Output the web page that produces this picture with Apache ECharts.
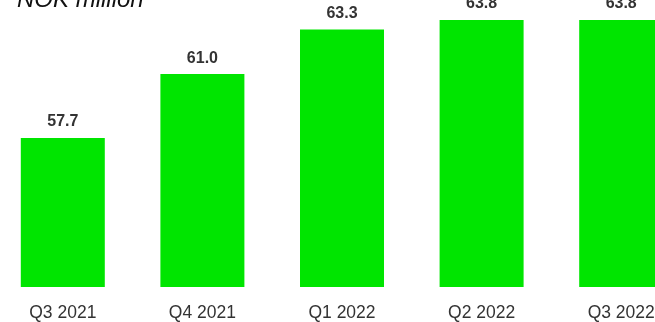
<!DOCTYPE html>
<html>
<head>
<meta charset="utf-8">
<script src="https://cdn.jsdelivr.net/npm/echarts@6/dist/echarts.min.js"></script>
<style>
html,body{margin:0;padding:0;background:#fff;}
#main{width:655px;height:322px;}
</style>
</head>
<body>
<div id="main"></div>
<script>
var quarters = ['Q3 2021', 'Q4 2021', 'Q1 2022', 'Q2 2022', 'Q3 2022'];
var revenue = [57.7, 61.0, 63.3, 63.8, 63.8];
var unitText = 'NOK million';

var chart = echarts.init(document.getElementById('main'));
chart.setOption({
	animation: false,
	graphic: [{
		type: 'text',
		left: 17,
		top: -12,
		style: {
			text: unitText,
			font: 'italic 24px "Liberation Sans", Arial, sans-serif',
			fill: '#111'
		}
	}],
	grid: {left: -7, width: 698, top: 0, height: 287, containLabel: false, outerBoundsMode: 'none'},
	xAxis: {
		type: 'category',
		data: quarters,
		axisLine: {show: false},
		axisTick: {show: false},
		axisLabel: {
			margin: 17,
			color: '#333',
			fontSize: 17.5,
			fontFamily: '"Liberation Sans", Arial, sans-serif'
		}
	},
	yAxis: {
		type: 'value',
		min: 50,
		max: 64.83,
		show: false,
		splitLine: {show: false}
	},
	series: [{
		type: 'bar',
		data: revenue,
		barWidth: 84,
		itemStyle: {color: '#00E500'},
		label: {
			show: true,
			position: 'top',
			distance: 8,
			color: '#333',
			fontSize: 16,
			fontWeight: 'bold',
			fontFamily: '"Liberation Sans", Arial, sans-serif',
			formatter: function (p) { return p.value.toFixed(1); }
		}
	}]
});
</script>
</body>
</html>
